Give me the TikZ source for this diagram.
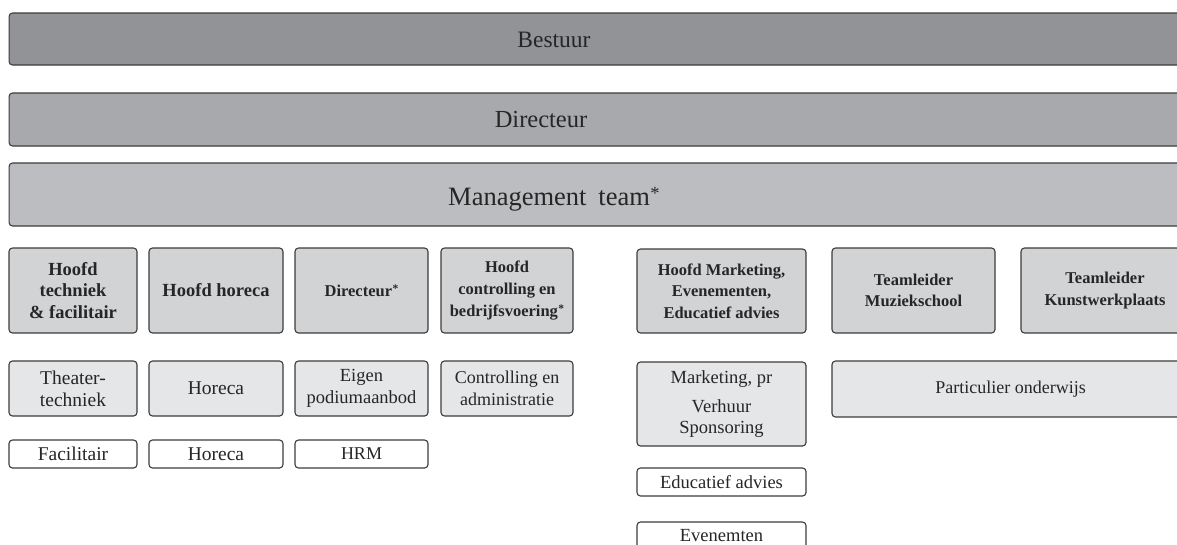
\documentclass[tikz,border=0pt]{standalone}
\usepackage{fontspec}
\setmainfont{Liberation Serif}
\definecolor{edge}{HTML}{3C3C3C}
\definecolor{cbest}{HTML}{929397}
\definecolor{cdir}{HTML}{A8A9AC}
\definecolor{cman}{HTML}{BCBDC0}
\definecolor{cone}{HTML}{D2D3D5}
\definecolor{ctwo}{HTML}{E5E6E8}
\newcommand\mystar{\kern0.5pt\raisebox{0.22em}{\scalebox{0.7}{*}}}
\tikzset{
  base/.style={draw=edge, line width=1.1pt, rounded corners=3.5pt, inner sep=0pt, align=center, text=black!85},
  barbox/.style={base, anchor=west},
  bartext/.style={anchor=base, inner sep=0pt, text=black!85},
  headbox/.style={base, fill=cone, font=\bfseries\fontsize{17.5}{21.7}\selectfont},
  unitbox/.style={base, fill=ctwo, font=\fontsize{19.5}{21.7}\selectfont},
  taskbox/.style={base, fill=white, font=\fontsize{19.5}{21.7}\selectfont},
}
\begin{document}
\begin{tikzpicture}[x=1pt,y=-1pt]
\useasboundingbox (0,0) rectangle (1177,544);
\clip (0,0) rectangle (1177,544);
% top bars
\node[barbox, fill=cbest, minimum width=1200pt, minimum height=52pt] (bestuur) at (8.5,39) {};
\node[bartext, font=\fontsize{23.5}{28}\selectfont] (bestuurT) at (554,47.3) {Bestuur};
\node[barbox, fill=cdir, minimum width=1200pt, minimum height=53pt] (directeur) at (8.5,119.5) {};
\node[bartext, font=\fontsize{24.5}{28}\selectfont] (directeurT) at (541,127.7) {Directeur};
\node[barbox, fill=cman, minimum width=1200pt, minimum height=63pt] (mt) at (8.5,194.5) {};
\node[bartext, font=\fontsize{26.5}{30}\selectfont] (mtT) at (554,205) {Management\hspace{0.45em}team\mystar};
% row 1 heads
\node[headbox, minimum width=128pt, minimum height=85pt, font=\bfseries\fontsize{18.5}{21.7}\selectfont] (h1) at (73,290.5) {Hoofd\\techniek\\\& facilitair};
\node[headbox, minimum width=134pt, minimum height=85pt, font=\bfseries\fontsize{18.5}{21.7}\selectfont] (h2) at (216,290.5) {Hoofd horeca};
\node[headbox, minimum width=133pt, minimum height=85pt, font=\bfseries\fontsize{16.5}{21.7}\selectfont] (h3) at (361.5,290.5) {Directeur\mystar};
\node[headbox, minimum width=132pt, minimum height=85pt, font=\bfseries\fontsize{16.5}{21.7}\selectfont] (h4) at (507,290.5) {Hoofd\\controlling en\\bedrijfsvoering\mystar};
\node[headbox, minimum width=169pt, minimum height=84pt, font=\bfseries\fontsize{16.5}{21.7}\selectfont] (h5) at (721.5,291) {Hoofd Marketing,\\Evenementen,\\Educatief advies};
\node[headbox, minimum width=163pt, minimum height=85pt, font=\bfseries\fontsize{16.5}{21.7}\selectfont] (h6) at (913.5,290.5) {Teamleider\\Muziekschool};
\node[headbox, minimum width=168pt, minimum height=85pt, font=\bfseries\fontsize{16.5}{21.7}\selectfont] (h7) at (1105,290.5) {Teamleider\\Kunstwerkplaats};
% row 2 units
\node[unitbox, minimum width=128pt, minimum height=55pt] (u1) at (73,388.5) {Theater-\\techniek};
\node[unitbox, minimum width=134pt, minimum height=55pt] (u2) at (216,388.5) {Horeca};
\node[unitbox, minimum width=133pt, minimum height=55pt, font=\fontsize{18.5}{21.7}\selectfont] (u3) at (361.5,388.5) {Eigen\\podiumaanbod};
\node[unitbox, minimum width=132pt, minimum height=55pt, font=\fontsize{18}{21.7}\selectfont] (u4) at (507,388.5) {Controlling en\\administratie};
\node[unitbox, minimum width=169pt, minimum height=84pt, font=\fontsize{18.5}{21}\selectfont] (u5) at (721.5,404) {Marketing, pr\\[8pt]Verhuur\\Sponsoring};
\node[unitbox, minimum width=357pt, minimum height=56pt, font=\fontsize{18}{21.7}\selectfont] (u6) at (1010.5,389) {Particulier onderwijs};
% row 3 tasks
\node[taskbox, minimum width=128pt, minimum height=28pt] (t1) at (73,454) {Facilitair};
\node[taskbox, minimum width=134pt, minimum height=28pt] (t2) at (216,454) {Horeca};
\node[taskbox, minimum width=133pt, minimum height=28pt, font=\fontsize{18}{21.7}\selectfont] (t3) at (361.5,454) {HRM};
\node[taskbox, minimum width=169pt, minimum height=28pt, font=\fontsize{18.5}{21.7}\selectfont] (t5) at (721.5,482) {Educatief advies};
\node[taskbox, minimum width=169pt, minimum height=28pt, font=\fontsize{18.5}{21.7}\selectfont] (t6) at (721.5,536) {Evenemten};
\end{tikzpicture}
\end{document}
